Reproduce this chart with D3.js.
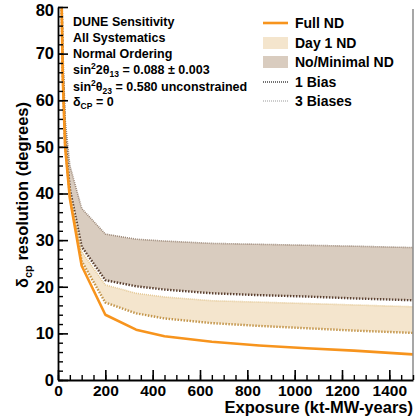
<!DOCTYPE html>
<html><head><meta charset="utf-8">
<script src="https://cdn.jsdelivr.net/npm/d3@7"></script>
<style>
html,body{margin:0;padding:0;background:#fff;}
svg{display:block;font-family:"Liberation Sans",Arial,Helvetica,sans-serif;font-weight:bold;}
</style></head>
<body>
<svg id="chart" width="417" height="417"></svg>
<script>
// ---- data ----
const exposure      = [10, 20, 30, 50, 100, 200, 330, 450, 650, 850, 1050, 1250, 1500];
const fullND        = [100, 65, 50, 39, 24.5, 14.0, 10.8, 9.4, 8.2, 7.4, 6.8, 6.3, 5.5];
const noND3Biases   = [110, 72, 56, 46, 36.8, 31.3, 30.2, 29.8, 29.3, 29.1, 28.9, 28.7, 28.4];
const noND1Bias     = [100, 67, 52, 41, 28.6, 21.4, 20.1, 19.4, 18.6, 18.2, 17.9, 17.5, 17.1];
const day1ND3Biases = [100, 66, 51, 40, 27.5, 20.4, 18.6, 17.8, 17.0, 16.7, 16.4, 16.1, 15.7];
const day1ND1Bias   = [100, 65.5, 50.5, 39.5, 25.5, 16.6, 14.3, 13.2, 12.2, 11.6, 11.1, 10.6, 10.1];
const xTicks = [0, 200, 400, 600, 800, 1000, 1200, 1400];
const yTicks = [0, 10, 20, 30, 40, 50, 60, 70, 80];
const annotationLines = ["DUNE Sensitivity", "All Systematics", "Normal Ordering"];
const legendLabels = ["Full ND", "Day 1 ND", "No/Minimal ND", "1 Bias", "3 Biases"];

const svg = d3.select("#chart");
const x = d3.scaleLinear().domain([0, 1500]).range([58, 413]);
const y = d3.scaleLinear().domain([0, 80]).range([380, 7]);

svg.append("defs").append("clipPath").attr("id", "plotclip")
  .append("rect").attr("x", 58).attr("y", 7).attr("width", 355).attr("height", 373);

const plot = svg.append("g").attr("clip-path", "url(#plotclip)");

const pts = arr => exposure.map((e, i) => [e, arr[i]]);
const band = (hi, lo) => d3.area().x((d, i) => x(exposure[i])).y0((d, i) => y(lo[i])).y1((d, i) => y(hi[i]))(exposure);
const line = d3.line().x(d => x(d[0])).y(d => y(d[1]));

// bands
plot.append("path").attr("d", band(noND3Biases, noND1Bias)).attr("fill", "#d9ccbf");
plot.append("path").attr("d", band(day1ND3Biases, day1ND1Bias)).attr("fill", "#f4e5cd");

// lines
plot.append("path").attr("d", line(pts(noND3Biases))).attr("fill", "none")
  .attr("stroke", "#9c8878").attr("stroke-width", 1.6).attr("stroke-dasharray", "1,1");
plot.append("path").attr("d", line(pts(noND1Bias))).attr("fill", "none")
  .attr("stroke", "#5b4030").attr("stroke-width", 2.4).attr("stroke-dasharray", "1.5,1.5");
plot.append("path").attr("d", line(pts(day1ND3Biases))).attr("fill", "none")
  .attr("stroke", "#e4c894").attr("stroke-width", 1.6).attr("stroke-dasharray", "1,1");
plot.append("path").attr("d", line(pts(day1ND1Bias))).attr("fill", "none")
  .attr("stroke", "#c3954a").attr("stroke-width", 2.4).attr("stroke-dasharray", "1.5,1.5");
plot.append("path").attr("d", line(pts(fullND))).attr("fill", "none")
  .attr("stroke", "#f7941d").attr("stroke-width", 2.6).attr("stroke-linejoin", "round");

// right frame
svg.append("line").attr("x1", 413).attr("x2", 413).attr("y1", 9).attr("y2", 380)
  .attr("stroke", "#8a8a8a").attr("stroke-width", 1.5);

// axes
const styleAxis = (g, fs) => {
  g.select(".domain").attr("stroke", "#000").attr("stroke-width", 1.8);
  g.selectAll(".tick line").attr("stroke", "#000").attr("stroke-width", 1.6);
  g.selectAll("text").attr("font-family", "Liberation Sans, Arial, sans-serif")
    .attr("font-weight", "bold").attr("font-size", fs).attr("fill", "#000");
};
svg.append("g").attr("transform", "translate(0,380)")
  .call(d3.axisBottom(x).tickValues(d3.range(0, 1501, 50)).tickSize(-5).tickFormat(""))
  .call(g => { g.select(".domain").remove(); g.selectAll(".tick line").attr("stroke", "#000").attr("stroke-width", 1.4); });
svg.append("g").attr("transform", "translate(0,380)")
  .call(d3.axisBottom(x).tickValues(xTicks).tickSize(-10).tickSizeOuter(0).tickPadding(6).tickFormat(d3.format("d")))
  .call(g => styleAxis(g, 15.5))
  .call(g => g.selectAll("text").attr("dy", "0.72em").attr("y", 5));
svg.append("g").attr("transform", "translate(58,0)")
  .call(d3.axisLeft(y).tickValues(d3.range(0, 81, 2)).tickSize(-5).tickFormat(""))
  .call(g => { g.select(".domain").remove(); g.selectAll(".tick line").attr("stroke", "#000").attr("stroke-width", 1.4); });
svg.append("g").attr("transform", "translate(58,0)")
  .call(d3.axisLeft(y).tickValues(yTicks).tickSize(-10).tickSizeOuter(0).tickPadding(4).tickFormat(d3.format("d")))
  .call(g => styleAxis(g, 16.5))
  .call(g => g.selectAll(".tick text").filter(d => d === 80).attr("dy", "0.5em"));

// axis titles
svg.append("text").attr("x", 413).attr("y", 413).attr("text-anchor", "end")
  .attr("font-size", 16.5).text("Exposure (kt-MW-years)");
const yt = svg.append("text").attr("transform", "translate(28,195) rotate(-90)")
  .attr("text-anchor", "middle").attr("font-size", 16.5);
yt.append("tspan").text("δ");
yt.append("tspan").attr("font-size", 11).attr("dy", 4).text("cp");
yt.append("tspan").attr("dy", -4).text(" resolution (degrees)");

// annotation
const ann = svg.append("g").attr("font-size", 12.5);
annotationLines.forEach((t, i) => ann.append("text").attr("x", 73).attr("y", 26 + i * 16).text(t));
const s1 = ann.append("text").attr("x", 73).attr("y", 74);
s1.append("tspan").text("sin");
s1.append("tspan").attr("font-size", 8.5).attr("dy", -5).text("2");
s1.append("tspan").attr("dy", 5).text("2θ");
s1.append("tspan").attr("font-size", 8.5).attr("dy", 3).text("13");
s1.append("tspan").attr("dy", -3).text(" = 0.088 ± 0.003");
const s2 = ann.append("text").attr("x", 73).attr("y", 91);
s2.append("tspan").text("sin");
s2.append("tspan").attr("font-size", 8.5).attr("dy", -5).text("2");
s2.append("tspan").attr("dy", 5).text("θ");
s2.append("tspan").attr("font-size", 8.5).attr("dy", 3).text("23");
s2.append("tspan").attr("dy", -3).text(" = 0.580 unconstrained");
const s3 = ann.append("text").attr("x", 73).attr("y", 106);
s3.append("tspan").text("δ");
s3.append("tspan").attr("font-size", 8.5).attr("dy", 3).text("CP");
s3.append("tspan").attr("dy", -3).text(" = 0");

// legend
const lg = svg.append("g");
const ly = [23, 43, 62, 82, 101];
lg.append("line").attr("x1", 263).attr("x2", 288).attr("y1", ly[0]).attr("y2", ly[0])
  .attr("stroke", "#f7941d").attr("stroke-width", 2.6);
lg.append("rect").attr("x", 263).attr("y", ly[1] - 6).attr("width", 25).attr("height", 12).attr("fill", "#f4e5cd");
lg.append("rect").attr("x", 263).attr("y", ly[2] - 6).attr("width", 25).attr("height", 12).attr("fill", "#d9ccbf");
lg.append("line").attr("x1", 263).attr("x2", 288).attr("y1", ly[3]).attr("y2", ly[3])
  .attr("stroke", "#444").attr("stroke-width", 1.6).attr("stroke-dasharray", "1,1");
lg.append("line").attr("x1", 263).attr("x2", 288).attr("y1", ly[4]).attr("y2", ly[4])
  .attr("stroke", "#999").attr("stroke-width", 1.2).attr("stroke-dasharray", "1,1");
legendLabels.forEach((t, i) => lg.append("text").attr("x", 295).attr("y", ly[i] + 5)
  .attr("font-size", 14).text(t));
</script>
</body></html>
